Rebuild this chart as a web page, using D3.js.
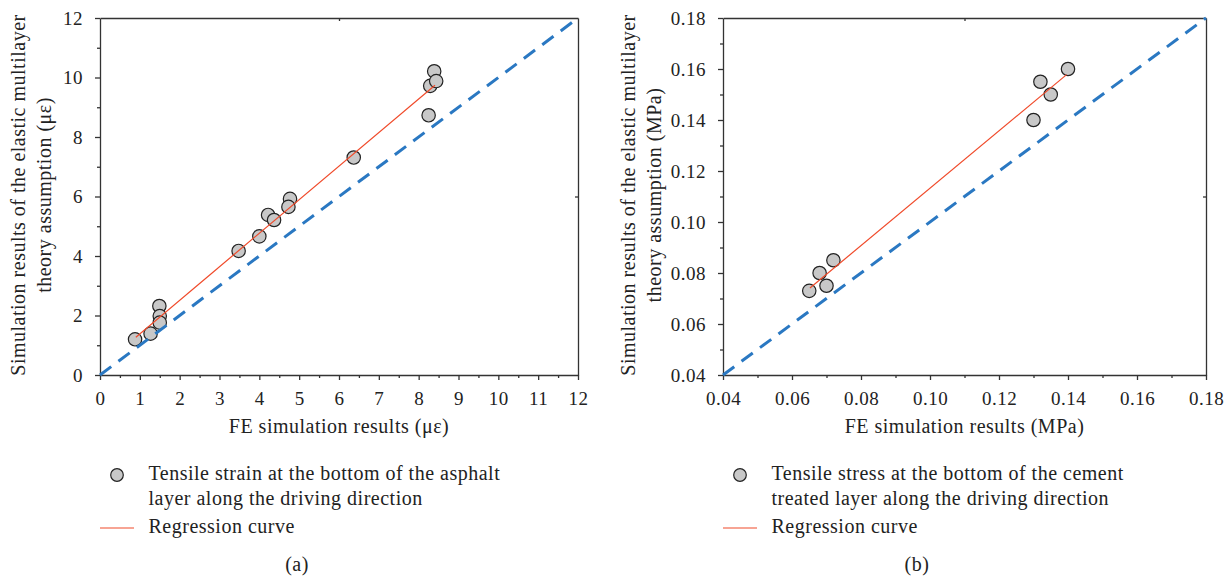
<!DOCTYPE html>
<html lang="en">
<head>
  <meta charset="UTF-8">
  <title>FE vs elastic multilayer theory</title>
  <script src="https://d3js.org/d3.v7.min.js"></script>
  <style>
    body { margin: 0; background: #fff; }
    text { font-family: "Liberation Serif", "DejaVu Serif", serif; fill: #222; font-size: 20px; letter-spacing: 0.5px; }
    .axis path, .axis line { stroke: #333; stroke-width: 1.3; }
    .axis text { font-size: 19px; font-family: "Liberation Serif", serif; fill: #222; letter-spacing: 0.5px; }
  </style>
</head>
<body>

<svg id="chart" width="1230" height="578"></svg>

<script>
  // panel (a): tensile strain, FE vs elastic multilayer (με)
  var strainFE  = [0.88, 1.27, 1.49, 1.50, 1.50, 3.48, 4.00, 4.22, 4.37, 4.77, 4.73, 6.37, 8.25, 8.29, 8.39, 8.44];
  var strainEML = [1.20, 1.39, 2.32, 1.98, 1.76, 4.17, 4.66, 5.38, 5.21, 5.92, 5.65, 7.31, 8.73, 9.72, 10.21, 9.88];
  var strainRegX = [0.90, 8.41];
  var strainRegY = [1.27, 9.74];
  var strainXTicks = [0, 1, 2, 3, 4, 5, 6, 7, 8, 9, 10, 11, 12];
  var strainYTicks = [0, 2, 4, 6, 8, 10, 12];

  // panel (b): tensile stress, FE vs elastic multilayer (MPa)
  var stressFE  = [0.065, 0.068, 0.070, 0.072, 0.130, 0.132, 0.135, 0.140];
  var stressEML = [0.073, 0.080, 0.075, 0.085, 0.140, 0.155, 0.150, 0.160];
  var stressRegX = [0.0652, 0.1396];
  var stressRegY = [0.0741, 0.1578];
  var stressTicks = [0.04, 0.06, 0.08, 0.10, 0.12, 0.14, 0.16, 0.18];

  var svg = d3.select('#chart');

  function drawPanel(p) {
    var x = d3.scaleLinear().domain(p.domain).range([p.left, p.right]);
    var y = d3.scaleLinear().domain(p.domain).range([375, 18]);
    var g = svg.append('g');

    // minor ticks first
    g.append('g').attr('class', 'axis').attr('transform', 'translate(0,375)')
      .call(d3.axisBottom(x).tickValues(p.xMinor).tickSize(3).tickFormat(''))
      .select('.domain').remove();
    g.append('g').attr('class', 'axis').attr('transform', 'translate(' + p.left + ',0)')
      .call(d3.axisLeft(y).tickValues(p.yMinor).tickSize(3).tickFormat(''))
      .select('.domain').remove();

    // frame: top and right with a single small inner tick
    g.append('g').attr('class', 'axis').attr('transform', 'translate(0,18)')
      .call(d3.axisTop(x).tickValues([p.mid]).tickSize(-3).tickSizeOuter(0).tickFormat(''));
    g.append('g').attr('class', 'axis').attr('transform', 'translate(' + p.right + ',0)')
      .call(d3.axisRight(y).tickValues([p.mid]).tickSize(-3).tickSizeOuter(0).tickFormat(''));

    g.append('g').attr('class', 'axis').attr('transform', 'translate(0,375)')
      .call(d3.axisBottom(x).tickValues(p.xTicks).tickSize(5).tickSizeOuter(0).tickPadding(12).tickFormat(p.fmt));
    g.append('g').attr('class', 'axis').attr('transform', 'translate(' + p.left + ',0)')
      .call(d3.axisLeft(y).tickValues(p.yTicks).tickSize(5).tickSizeOuter(0).tickPadding(12).tickFormat(p.fmt));

    // points
    g.selectAll('circle.pt').data(p.xs).enter().append('circle')
      .attr('class', 'pt')
      .attr('cx', function (d) { return x(d); })
      .attr('cy', function (d, i) { return y(p.ys[i]); })
      .attr('r', 6.7)
      .attr('fill', '#c8c8c8')
      .attr('stroke', '#222')
      .attr('stroke-width', 1.2);

    // 1:1 line
    g.append('line')
      .attr('x1', x(p.domain[0])).attr('y1', y(p.domain[0]))
      .attr('x2', x(p.domain[1])).attr('y2', y(p.domain[1]))
      .attr('stroke', '#2a78c2').attr('stroke-width', 3)
      .attr('stroke-dasharray', '14,9');

    // regression
    g.append('line')
      .attr('x1', x(p.regX[0])).attr('y1', y(p.regY[0]))
      .attr('x2', x(p.regX[1])).attr('y2', y(p.regY[1]))
      .attr('stroke', '#f04a2a').attr('stroke-width', 1.2);

    // axis titles
    g.append('text').attr('x', (p.left + p.right) / 2).attr('y', 433)
      .attr('text-anchor', 'middle').text(p.xTitle);
    p.yTitle.forEach(function (line, i) {
      g.append('text')
        .attr('transform', 'translate(' + (p.yTitleX + i * 26) + ',195) rotate(-90)')
        .attr('text-anchor', 'middle').text(line);
    });

    // legend
    var lx = p.left;
    g.append('circle').attr('cx', lx + 17).attr('cy', 475).attr('r', 6.3)
      .attr('fill', '#c8c8c8').attr('stroke', '#222').attr('stroke-width', 1.2);
    p.legend.forEach(function (line, i) {
      g.append('text').attr('x', lx + 48.5).attr('y', 480 + i * 24.5).text(line);
    });
    g.append('line').attr('x1', lx).attr('x2', lx + 34).attr('y1', 528).attr('y2', 528)
      .attr('stroke', '#f04a2a').attr('stroke-width', 1.2);
    g.append('text').attr('x', lx + 48.5).attr('y', 533).text('Regression curve');

    g.append('text').attr('x', p.capX).attr('y', 571).attr('text-anchor', 'middle').text(p.caption);
  }

  drawPanel({
    left: 100, right: 578, domain: [0, 12], mid: 6,
    xs: strainFE, ys: strainEML, regX: strainRegX, regY: strainRegY,
    xTicks: strainXTicks, yTicks: strainYTicks,
    xMinor: d3.range(0.5, 12, 1), yMinor: d3.range(1, 12, 2),
    fmt: d3.format('d'),
    xTitle: 'FE simulation results (με)',
    yTitle: ['Simulation results of the elastic multilayer', 'theory assumption (με)'],
    yTitleX: 25,
    legend: ['Tensile strain at the bottom of the asphalt', 'layer along the driving direction'],
    capX: 297, caption: '(a)'
  });

  drawPanel({
    left: 723, right: 1206, domain: [0.04, 0.18], mid: 0.11,
    xs: stressFE, ys: stressEML, regX: stressRegX, regY: stressRegY,
    xTicks: stressTicks, yTicks: stressTicks,
    xMinor: d3.range(0.05, 0.18, 0.02), yMinor: d3.range(0.05, 0.18, 0.02),
    fmt: d3.format('.2f'),
    xTitle: 'FE simulation results (MPa)',
    yTitle: ['Simulation results of the elastic multilayer', 'theory assumption (MPa)'],
    yTitleX: 635,
    legend: ['Tensile stress at the bottom of the cement', 'treated layer along the driving direction'],
    capX: 917, caption: '(b)'
  });
</script>

</body>
</html>
